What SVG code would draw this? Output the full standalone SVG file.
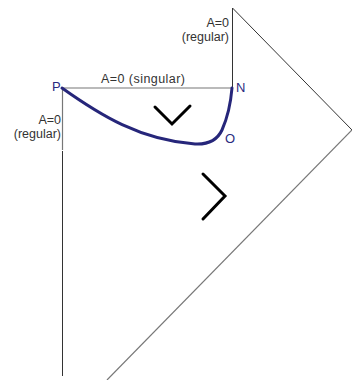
<svg xmlns="http://www.w3.org/2000/svg" width="352" height="380" viewBox="0 0 352 380">
<style>
.t{font-family:"Liberation Sans",Arial,sans-serif;font-size:12.5px;fill:#333}
.lbl{font-family:"Liberation Sans",Arial,sans-serif;font-size:13px;fill:#2a2a80}
.ln{stroke:#333;stroke-width:1;fill:none}
.lg{stroke:#777;stroke-width:1.2;fill:none}
.chev{stroke:#000;stroke-width:3;fill:none;stroke-linecap:round;stroke-linejoin:miter}
.curve{stroke:#26267a;stroke-width:3;fill:none;stroke-linecap:round}
</style>
<rect width="352" height="380" fill="#fff"/>
<g id="boundaries">
<line class="ln" x1="232.5" y1="8" x2="232.5" y2="88"/>
<line class="ln" x1="232.5" y1="8" x2="352" y2="130"/>
<line class="lg" x1="352" y1="130" x2="107" y2="380"/>
<line class="lg" x1="62" y1="88" x2="232.5" y2="88"/>
<line class="lg" x1="62.5" y1="88" x2="62.5" y2="150"/>
<line class="ln" x1="62.5" y1="151" x2="62.5" y2="376"/>
</g>
<g id="connectors">
<path class="curve" d="M62,88 C100,115 140,140 195,144 Q215,145 222,130 Q230,112 232,88"/>
</g>
<g id="chevrons">
<polyline class="chev" points="155,107 172,124 190,106"/>
<polyline class="chev" points="203,174 225,196 203,219"/>
</g>
<g id="P"><text class="lbl" x="52" y="91">P</text></g>
<g id="N"><text class="lbl" x="236" y="92">N</text></g>
<g id="O"><text class="lbl" x="225" y="143">O</text></g>
<g id="label-singular"><text class="t" x="101" y="83" textLength="84">A=0 (singular)</text></g>
<g id="label-top"><text class="t" x="229" y="27" text-anchor="end">A=0</text><text class="t" x="229" y="41" text-anchor="end">(regular)</text></g>
<g id="label-left"><text class="t" x="61" y="124" text-anchor="end">A=0</text><text class="t" x="61" y="138" text-anchor="end">(regular)</text></g>
</svg>
